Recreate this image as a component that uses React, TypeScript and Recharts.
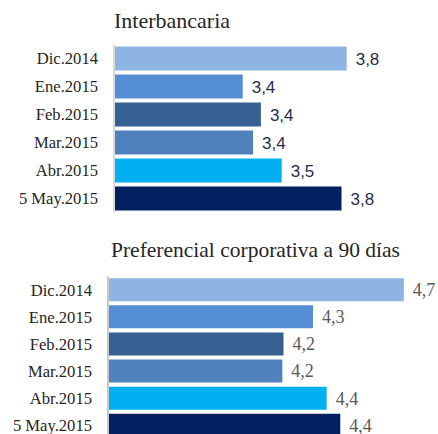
import React from "react";
import { BarChart, Bar, XAxis, YAxis, Cell, LabelList } from "recharts";

const categories = ["Dic.2014", "Ene.2015", "Feb.2015", "Mar.2015", "Abr.2015", "5 May.2015"];
const interbancariaValues = [3.77, 3.37, 3.44, 3.41, 3.52, 3.75];
const preferencialValues = [4.72, 4.32, 4.19, 4.185, 4.38, 4.44];
const barColors = ["#8EB4E3", "#558ED5", "#376092", "#4F81BD", "#00B0F0", "#002060"];
const titles = ["Interbancaria", "Preferencial corporativa a 90 días"];

const topData = categories.map((name, i) => ({ name, value: interbancariaValues[i] }));
const bottomData = categories.map((name, i) => ({ name, value: preferencialValues[i] }));

const fmt = (v: any) => Number(v).toFixed(1).replace(".", ",");

const serif = "'Liberation Serif', 'Times New Roman', serif";

export default function App() {
  return (
    <div style={{ position: "absolute", left: 0, top: 0, width: 438, height: 434, overflow: "hidden", background: "#fff" }}>
      <div style={{ position: "absolute", left: 0, top: 0 }}>
        <BarChart
          width={438}
          height={218}
          data={topData}
          layout="vertical"
          margin={{ top: 44.5, right: 31.5, bottom: 5.5, left: 0 }}
        >
          <XAxis type="number" hide domain={[2.875, 4.0]} allowDataOverflow />
          <YAxis
            type="category"
            dataKey="name"
            width={114}
            tickLine={false}
            tickMargin={10}
            axisLine={{ stroke: "#d9d9d9", strokeWidth: 2 }}
            tick={{ fill: "#262626", fontSize: 16.6, fontFamily: serif }}
            interval={0}
          />
          <Bar dataKey="value" barSize={24} isAnimationActive={false}>
            {topData.map((d, i) => (
              <Cell key={d.name} fill={barColors[i]} />
            ))}
            <LabelList
              dataKey="value"
              position="right"
              offset={9}
              formatter={fmt}
              style={{ fill: "#1F2D4D", fontSize: 17, fontFamily: "'Liberation Sans', Arial, sans-serif" }}
            />
          </Bar>
        </BarChart>
      </div>
      <div style={{ position: "absolute", left: 0, top: 218 }}>
        <BarChart
          width={438}
          height={223}
          data={bottomData}
          layout="vertical"
          margin={{ top: 58.2, right: 16, bottom: 2, left: 0 }}
        >
          <XAxis type="number" hide domain={[3.417, 4.8]} allowDataOverflow />
          <YAxis
            type="category"
            dataKey="name"
            width={108}
            tickLine={false}
            tickMargin={10}
            axisLine={{ stroke: "#c8c8c8", strokeWidth: 2 }}
            tick={{ fill: "#262626", fontSize: 16.6, fontFamily: serif }}
            interval={0}
          />
          <Bar dataKey="value" barSize={23} isAnimationActive={false}>
            {bottomData.map((d, i) => (
              <Cell key={d.name} fill={barColors[i]} />
            ))}
            <LabelList
              dataKey="value"
              position="right"
              offset={9}
              formatter={fmt}
              style={{ fill: "#595959", fontSize: 18, fontFamily: serif }}
            />
          </Bar>
        </BarChart>
      </div>
      <svg width={438} height={434} style={{ position: "absolute", left: 0, top: 0, pointerEvents: "none" }}>
        <text x={114} y={28} fontSize={22} fontFamily={serif} fill="#262626">{titles[0]}</text>
        <text x={111} y={257} fontSize={21.5} fontFamily={serif} fill="#262626">{titles[1]}</text>
      </svg>
    </div>
  );
}
